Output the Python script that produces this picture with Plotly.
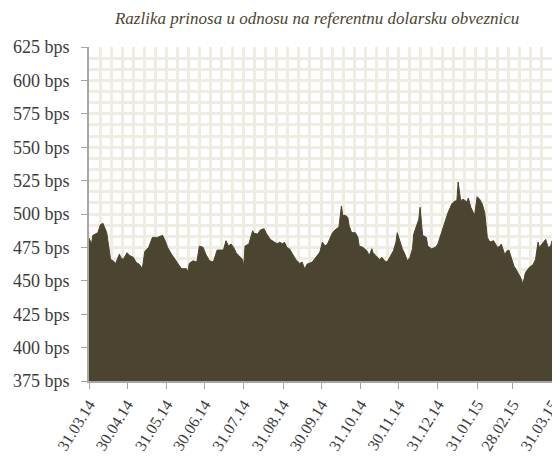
import plotly.graph_objects as go

title_text = "Razlika prinosa u odnosu na referentnu dolarsku obveznicu"

dates = [
    "2014-03-31", "2014-04-02", "2014-04-03", "2014-04-07", "2014-04-09", "2014-04-11",
    "2014-04-14", "2014-04-15", "2014-04-17", "2014-04-19", "2014-04-21", "2014-04-24",
    "2014-04-25", "2014-04-27", "2014-04-30", "2014-05-02", "2014-05-05", "2014-05-07",
    "2014-05-10", "2014-05-12", "2014-05-14", "2014-05-17", "2014-05-20", "2014-05-24",
    "2014-05-28", "2014-05-30", "2014-06-01", "2014-06-04", "2014-06-06", "2014-06-09",
    "2014-06-12", "2014-06-16", "2014-06-17", "2014-06-18", "2014-06-21", "2014-06-24",
    "2014-06-26", "2014-06-29", "2014-07-01", "2014-07-04", "2014-07-07", "2014-07-09",
    "2014-07-10", "2014-07-15", "2014-07-17", "2014-07-19", "2014-07-21", "2014-07-23",
    "2014-07-25", "2014-07-27", "2014-07-30", "2014-07-31", "2014-08-01", "2014-08-04",
    "2014-08-07", "2014-08-08", "2014-08-11", "2014-08-13", "2014-08-16", "2014-08-18",
    "2014-08-20", "2014-08-21", "2014-08-24", "2014-08-27", "2014-08-28", "2014-08-31",
    "2014-09-01", "2014-09-03", "2014-09-05", "2014-09-08", "2014-09-10", "2014-09-13",
    "2014-09-15", "2014-09-17", "2014-09-19", "2014-09-23", "2014-09-26", "2014-09-29",
    "2014-10-01", "2014-10-03", "2014-10-05", "2014-10-08", "2014-10-09", "2014-10-12",
    "2014-10-14", "2014-10-16", "2014-10-17", "2014-10-19", "2014-10-21", "2014-10-22",
    "2014-10-24", "2014-10-27", "2014-10-29", "2014-10-30", "2014-11-02", "2014-11-05",
    "2014-11-07", "2014-11-09", "2014-11-10", "2014-11-12", "2014-11-15", "2014-11-17",
    "2014-11-19", "2014-11-21", "2014-11-23", "2014-11-26", "2014-11-28", "2014-11-29",
    "2014-12-01", "2014-12-03", "2014-12-05", "2014-12-07", "2014-12-09", "2014-12-11",
    "2014-12-12", "2014-12-14", "2014-12-16", "2014-12-17", "2014-12-19", "2014-12-22",
    "2014-12-23", "2014-12-26", "2014-12-29", "2014-12-31", "2015-01-03", "2015-01-06",
    "2015-01-08", "2015-01-11", "2015-01-13", "2015-01-15", "2015-01-16", "2015-01-18",
    "2015-01-20", "2015-01-23", "2015-01-24", "2015-01-26", "2015-01-28", "2015-01-29",
    "2015-01-31", "2015-02-02", "2015-02-04", "2015-02-05", "2015-02-06", "2015-02-08",
    "2015-02-10", "2015-02-13", "2015-02-16", "2015-02-18", "2015-02-19", "2015-02-22",
    "2015-02-23", "2015-02-25", "2015-02-27", "2015-03-01", "2015-03-03", "2015-03-05",
    "2015-03-07", "2015-03-08", "2015-03-10", "2015-03-13", "2015-03-16", "2015-03-18",
    "2015-03-20", "2015-03-21", "2015-03-23", "2015-03-26", "2015-03-28", "2015-03-30",
    "2015-03-31",
]

spread_bps = [
    482, 477.5, 484, 486, 492, 493,
    486, 480, 466, 465, 463, 470,
    467.5, 466, 471, 469, 467.5, 464,
    462, 459, 472, 475, 482.5, 482.5,
    484, 480, 475, 470, 467.5, 463,
    459, 459, 456, 463, 465, 464,
    476, 475, 470, 465, 464, 470,
    473, 473, 480, 476, 477.5, 475,
    471, 469, 466, 461, 476, 477.5,
    487.5, 485.5, 485, 488, 489, 485,
    482.5, 481, 479, 477.5, 479, 477.5,
    479, 475, 474, 469, 466, 463,
    464, 459, 462.5, 464, 468, 471.5,
    479, 476, 477.5, 484, 486, 489,
    490, 506, 499, 499, 497.5, 491.5,
    486, 486, 482.5, 476, 475, 472.5,
    469, 474, 471, 469, 466, 467.5,
    465, 464, 467.5, 472.5, 479, 486,
    480, 474, 470, 465, 467.5, 474,
    485, 491.5, 496, 505, 484, 482.5,
    476, 474, 475, 477.5, 486, 494,
    501, 507.5, 509.5, 510, 524, 510,
    511, 509, 512, 505, 500, 499,
    513, 511, 507.5, 504, 501, 482.5,
    479, 480, 475, 476, 477.5, 469,
    472, 473, 467.5, 461, 458, 455,
    451, 447, 456, 460, 462, 466,
    479, 475, 477.5, 481, 475, 476,
    480,
]

tick_dates = [
    "2014-03-31", "2014-04-30", "2014-05-31", "2014-06-30", "2014-07-31",
    "2014-08-31", "2014-09-30", "2014-10-31", "2014-11-30", "2014-12-31",
    "2015-01-31", "2015-02-28", "2015-03-31",
]
tick_labels = [
    "31.03.14", "30.04.14", "31.05.14", "30.06.14", "31.07.14",
    "31.08.14", "30.09.14", "31.10.14", "30.11.14", "31.12.14",
    "31.01.15", "28.02.15", "31.03.15",
]

fill_color = "#4A4430"
grid_color = "#EFECE1"
axis_color = "#A6A6A6"
serif = "Liberation Serif"

fig = go.Figure()
fig.add_trace(go.Scatter(
    x=dates, y=spread_bps, mode="lines", fill="tozeroy",
    line=dict(color=fill_color, width=1), fillcolor=fill_color,
    hoverinfo="skip", showlegend=False,
))

DAY_MS = 86400000
# the page places the figure 8px in from the top-left corner
fig.update_layout(
    width=552, height=451,
    margin=dict(l=81, r=8, t=39, b=78),
    paper_bgcolor="white", plot_bgcolor="white",
    title=dict(text=title_text, x=0.56, xanchor="center", y=0.992, yanchor="top",
               yref="container",
               font=dict(family=serif, size=17, color="#4B4530", style="italic")),
    font=dict(family=serif, color="#3C3C3C"),
)
fig.update_xaxes(
    type="date", range=["2014-03-31", "2015-03-31"], automargin=False,
    tickmode="array", tickvals=tick_dates, ticktext=tick_labels,
    tickangle=-58, tickfont=dict(family=serif, size=16, color="#3C3C3C"),
    ticklabeloverflow="allow",
    ticks="outside", ticklen=6, tickcolor=axis_color, tickwidth=1,
    showline=True, linecolor=axis_color, linewidth=2,
    showgrid=False, zeroline=False,
    minor=dict(dtick=8.71 * DAY_MS, tick0="2014-03-31", showgrid=True,
               gridcolor=grid_color, gridwidth=3, ticks=""),
)
fig.update_yaxes(
    range=[375, 625], dtick=25, tick0=375, ticksuffix=" bps", automargin=False,
    tickfont=dict(family=serif, size=18, color="#3C3C3C"),
    ticks="outside", ticklen=6, tickcolor=axis_color, tickwidth=1,
    ticklabelstandoff=8,
    showline=True, linecolor=axis_color, linewidth=2,
    showgrid=True, gridcolor=grid_color, gridwidth=3, zeroline=False,
    minor=dict(dtick=25 / 3, showgrid=True, gridcolor=grid_color, gridwidth=3, ticks=""),
)

fig.write_html("out.html")
